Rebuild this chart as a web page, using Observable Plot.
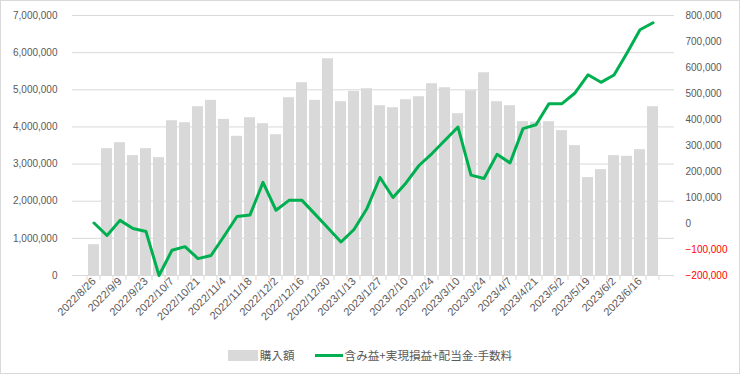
<!DOCTYPE html>
<html><head><meta charset="utf-8">
<script src="https://cdn.jsdelivr.net/npm/d3@7"></script>
<script src="https://cdn.jsdelivr.net/npm/@observablehq/plot@0.6"></script>
<style>
body{margin:0;background:#fff;}
#wrap{width:738px;height:372px;border:1px solid #d9d9d9;position:relative;overflow:hidden;background:#fff;}
#legend{position:absolute;left:0;right:0;top:346px;display:flex;justify-content:center;align-items:center;font-family:"Noto Sans CJK JP",sans-serif;font-size:11.6px;color:#595959;}
.sw{display:inline-block;width:30px;height:11px;background:#d9d9d9;margin-right:2px;}
.ln{display:inline-block;width:28px;height:3px;background:#00b050;margin-right:2px;}
.item{display:flex;align-items:center;}
</style>
</head><body>
<div id="wrap"><div id="chart"></div>
<div id="legend"><span class="item"><span class="sw"></span>購入額</span><span class="item" style="margin-left:20px"><span class="ln"></span>含み益+実現損益+配当金-手数料</span></div>
</div>
<script>
const dates = ["2022/8/26","2022/9/2","2022/9/9","2022/9/16","2022/9/23","2022/9/30","2022/10/7","2022/10/14","2022/10/21","2022/10/28","2022/11/4","2022/11/11","2022/11/18","2022/11/25","2022/12/2","2022/12/9","2022/12/16","2022/12/23","2022/12/30","2023/1/6","2023/1/13","2023/1/20","2023/1/27","2023/2/3","2023/2/10","2023/2/17","2023/2/24","2023/3/3","2023/3/10","2023/3/17","2023/3/24","2023/3/31","2023/4/7","2023/4/14","2023/4/21","2023/4/28","2023/5/2","2023/5/12","2023/5/19","2023/5/26","2023/6/2","2023/6/9","2023/6/16","2023/6/23"];
const purchase = [830000,3415000,3576000,3227000,3415000,3173000,4168000,4114000,4544000,4715000,4204000,3747000,4248000,4087000,3791000,4786000,5190000,4715000,5835000,4679000,4957000,5028000,4571000,4517000,4732000,4813000,5163000,5055000,4356000,4974000,5458000,4679000,4571000,4141000,4130000,4141000,3899000,3496000,2635000,2850000,3227000,3209000,3388000,4544000];
const profit = [2000,-46000,12000,-19000,-31000,-200000,-103000,-89000,-135000,-123000,-49000,27000,33000,158000,51000,89000,89000,36000,-17000,-71000,-23000,58000,177000,100000,156000,223000,269000,320000,371000,186000,173000,266000,233000,365000,380000,461000,461000,502000,572000,543000,571000,656000,745000,772000];
const leftTicks = [0,1000000,2000000,3000000,4000000,5000000,6000000,7000000];
const rightTicks = [-200000,-100000,0,100000,200000,300000,400000,500000,600000,700000,800000];

// right axis (-200,000..800,000) mapped onto left axis (0..7,000,000)
const rMin = -200000, rMax = 800000, lMax = 7000000;
const toLeft = v => (v - rMin) * lMax / (rMax - rMin);
const fromLeft = v => v * (rMax - rMin) / lMax + rMin;
const fmt = d3.format(",");

const data = dates.map((d, i) => ({date: d, purchase: purchase[i], profit: profit[i]}));
const labelDates = dates.filter((d, i) => i % 2 === 0);

const chart = Plot.plot({
  width: 738, height: 335,
  marginLeft: 71, marginRight: 65, marginTop: 14, marginBottom: 61,
  style: {fontFamily: "'Liberation Sans', Arial, sans-serif", fontSize: "10px", color: "#595959", background: "#fff", overflow: "visible"},
  x: {type: "band", domain: dates, paddingInner: 0.15, paddingOuter: 0.075, label: null},
  y: {domain: [0, lMax], label: null},
  marks: [
    Plot.ruleY(leftTicks, {stroke: "#d9d9d9", strokeWidth: 1}),
    Plot.barY(data, {x: "date", y: "purchase", fill: "#d9d9d9"}),
    Plot.line(data, {x: "date", y: d => toLeft(d.profit), stroke: "#00b050", strokeWidth: 3, strokeLinejoin: "round", strokeLinecap: "round"}),
    Plot.axisY(leftTicks, {anchor: "left", tickSize: 0, tickPadding: 15, tickFormat: d => fmt(d), label: null}),
    Plot.axisY(rightTicks.map(toLeft), {anchor: "right", tickSize: 0, tickPadding: 11, tickFormat: d => fmt(Math.round(fromLeft(d))), label: null}),
    Plot.axisX(labelDates, {tickRotate: -45, tickSize: 0, tickPadding: 4, fontSize: 11, label: null})
  ]
});
document.getElementById("chart").appendChild(chart);

// red negative labels on the right axis
d3.select(chart).selectAll("text").each(function() {
  const t = this.textContent;
  if (t.startsWith("-") || t.startsWith("−")) d3.select(this).attr("fill", "#ff0000");
});

// category tick marks between bars
const xs = chart.scale("x"), ys = chart.scale("y");
const gap = xs.step - xs.bandwidth;
const bounds = dates.map(d => xs.apply(d) - gap / 2);
bounds.push(xs.apply(dates[dates.length - 1]) + xs.bandwidth + gap / 2);
const y0 = ys.apply(0);
d3.select(chart).append("g").selectAll("line").data(bounds).join("line")
  .attr("x1", d => d).attr("x2", d => d).attr("y1", y0).attr("y2", y0 + 5)
  .attr("stroke", "#d9d9d9").attr("stroke-width", 1);
</script>
</body></html>
